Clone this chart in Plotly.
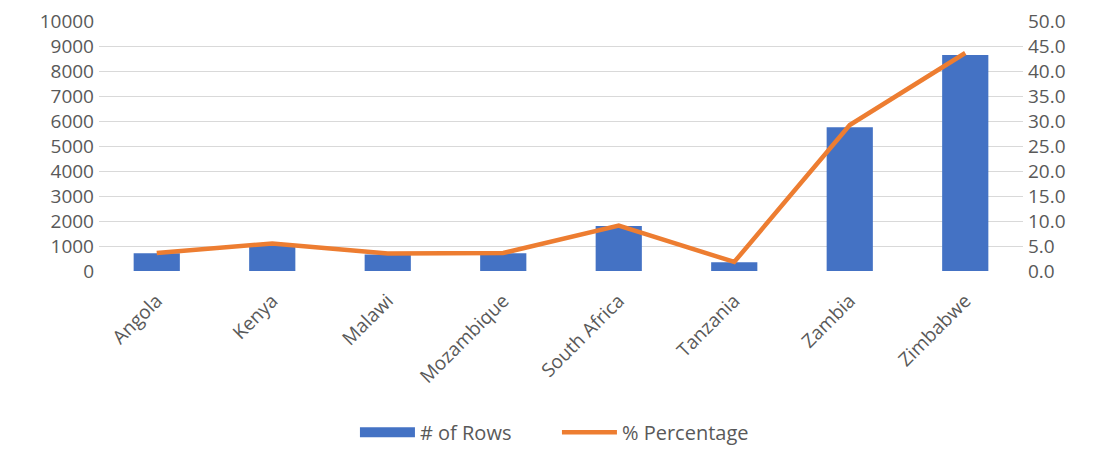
import plotly.graph_objects as go

countries = ["Angola", "Kenya", "Malawi", "Mozambique", "South Africa",
             "Tanzania", "Zambia", "Zimbabwe"]
rows = [710, 1080, 660, 710, 1800, 350, 5750, 8640]
percentage = [3.6, 5.5, 3.5, 3.6, 9.1, 1.8, 29.2, 43.6]

left_ticks = list(range(0, 10001, 1000))
right_ticks = [v * 5.0 for v in range(11)]

BLUE = "#4472C4"
ORANGE = "#ED7D31"
font = dict(family="Open Sans, Calibri, sans-serif", size=19, color="#595959")

fig = go.Figure()
fig.add_trace(go.Bar(
    x=countries, y=rows, name="# of Rows",
    marker=dict(color=BLUE, line=dict(width=0)),
    yaxis="y", showlegend=False,
))
# wide rectangular legend key for the bar series
fig.add_trace(go.Scatter(
    x=[None], y=[None], name="# of Rows", mode="lines",
    line=dict(color=BLUE, width=11), yaxis="y", showlegend=True,
))
fig.add_trace(go.Scatter(
    x=countries, y=percentage, name="% Percentage",
    mode="lines", line=dict(color=ORANGE, width=4.5),
    yaxis="y2",
))

fig.update_layout(
    width=1094, height=449,
    margin=dict(l=99, r=71, t=21, b=178, autoexpand=False),
    paper_bgcolor="white", plot_bgcolor="white",
    font=font,
    bargap=0.6,
    showlegend=True,
    legend=dict(orientation="h", x=0.277, xanchor="left", y=-0.645, yanchor="middle",
                font=dict(size=20, color="#595959"), itemwidth=55, tracegroupgap=0,
                entrywidth=132, entrywidthmode="pixels"),
    xaxis=dict(tickangle=-45, showgrid=False, zeroline=False, showline=False,
               ticks="", tickfont=font, automargin=False, ticklabelstandoff=14),
    yaxis=dict(range=[0, 10000], tickvals=left_ticks,
               ticktext=[str(v) for v in left_ticks],
               showgrid=True, gridcolor="#D9D9D9", gridwidth=1.3,
               zeroline=False, showline=False, ticks="", tickfont=font,
               automargin=False, ticklabelstandoff=4),
    yaxis2=dict(range=[0, 50], tickvals=right_ticks,
                ticktext=[f"{v:.1f}" for v in right_ticks],
                overlaying="y", side="right", showgrid=False,
                zeroline=False, showline=False, ticks="", tickfont=font,
                automargin=False, ticklabelstandoff=4),
)

fig.write_html("out.html")
